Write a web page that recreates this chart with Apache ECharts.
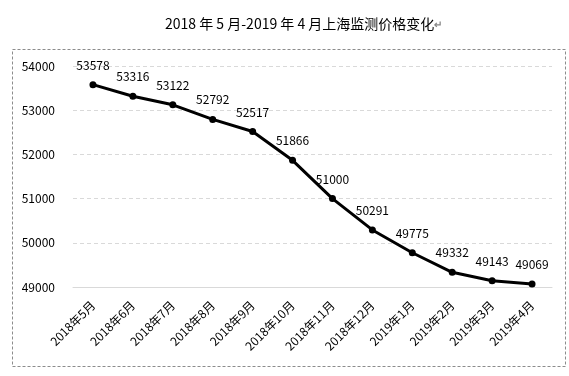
<!DOCTYPE html>
<html>
<head>
<meta charset="utf-8">
<script src="https://cdn.jsdelivr.net/npm/echarts@6/dist/echarts.min.js"></script>
<style>
  html, body { margin: 0; padding: 0; background: #fff; }
  #chart { width: 569px; height: 376px; }
</style>
</head>
<body>
<div id="chart"></div>
<script>
// 月份
var months = ['2018年5月', '2018年6月', '2018年7月', '2018年8月', '2018年9月', '2018年10月',
  '2018年11月', '2018年12月', '2019年1月', '2019年2月', '2019年3月', '2019年4月'];
// 监测价格
var prices = [53578, 53316, 53122, 52792, 52517, 51866, 51000, 50291, 49775, 49332, 49143, 49069];

var FONT = '"Noto Sans CJK SC", "Microsoft YaHei", sans-serif';
var chart = echarts.init(document.getElementById('chart'));

var option = {
  animation: false,
  backgroundColor: '#fff',
  textStyle: { fontFamily: FONT },
  title: {
    text: '{t|2018 年 5 月-2019 年 4 月上海监测价格变化}{r|↵}',
    left: 160,
    top: 12,
    textStyle: {
      rich: {
        t: { fontFamily: FONT, fontSize: 14, color: '#000', fontWeight: 'normal' },
        r: { fontFamily: FONT, fontSize: 10, color: '#888' }
      }
    }
  },
  // 虚线外框
  graphic: [{
    type: 'rect',
    shape: { x: 12.5, y: 49.5, width: 553, height: 317 },
    style: { fill: 'none', stroke: '#8c8c8c', lineWidth: 1, lineDash: [3, 2] },
    silent: true
  }],
  grid: { left: 73, right: 17, top: 66, bottom: 89 },
  xAxis: {
    type: 'category',
    data: months,
    boundaryGap: true,
    axisLine: { lineStyle: { color: '#d9d9d9', width: 1 } },
    axisTick: { show: false },
    axisLabel: {
      interval: 0,
      rotate: 45,
      color: '#000',
      fontSize: 12,
      fontFamily: FONT,
      margin: 16
    }
  },
  yAxis: {
    type: 'value',
    min: 49000,
    max: 54000,
    interval: 1000,
    axisLine: { show: false },
    axisTick: { show: false },
    axisLabel: {
      color: '#000', fontSize: 12, fontFamily: FONT, margin: 18,
      formatter: function (v) { return String(v); }
    },
    splitLine: { lineStyle: { color: '#d9d9d9', type: [4, 3] } }
  },
  series: [{
    type: 'line',
    data: prices,
    symbol: 'circle',
    symbolSize: 7,
    lineStyle: { color: '#000', width: 3 },
    itemStyle: { color: '#000' },
    label: {
      show: true,
      position: 'top',
      distance: 10,
      color: '#000',
      fontSize: 12,
      fontFamily: FONT
    }
  }]
};

chart.setOption(option);
</script>
</body>
</html>
